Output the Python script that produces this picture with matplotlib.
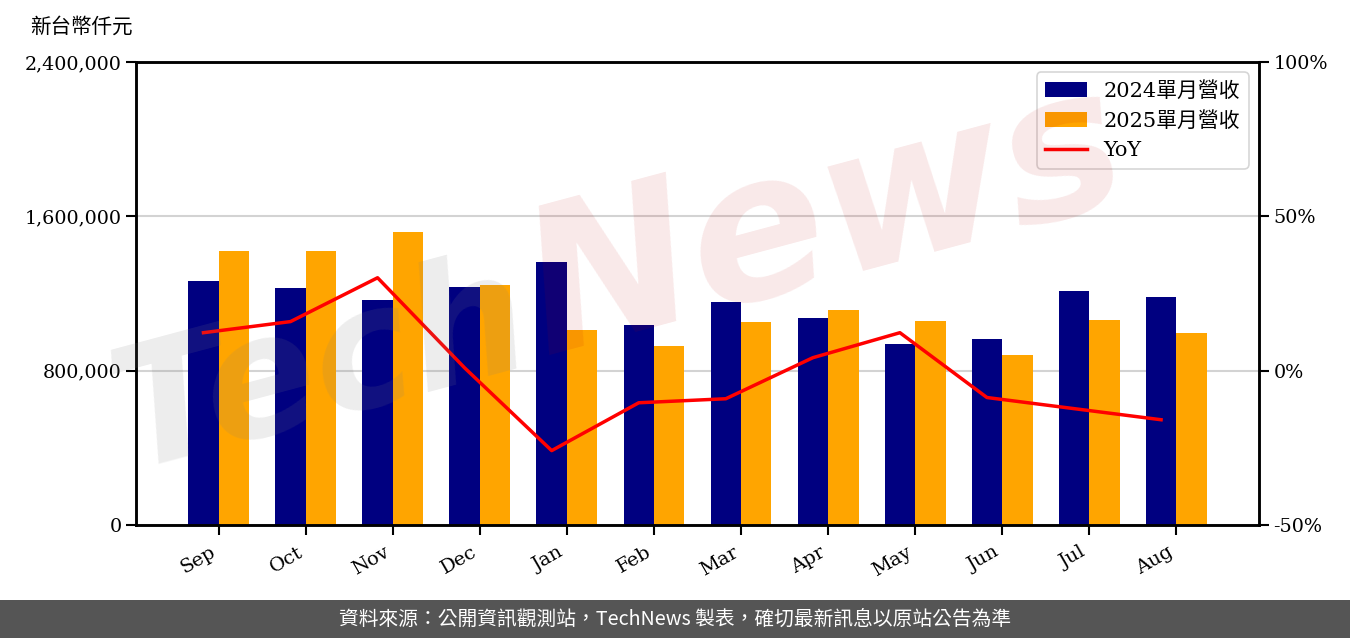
import matplotlib
matplotlib.use("Agg")
import matplotlib.pyplot as plt
import numpy as np
from matplotlib.ticker import FuncFormatter

months = ["Sep", "Oct", "Nov", "Dec", "Jan", "Feb", "Mar", "Apr", "May", "Jun", "Jul", "Aug"]
rev_2024 = [1265000, 1228000, 1166000, 1234000, 1363000, 1037000, 1156000, 1073000, 938000, 964000, 1213000, 1182000]
rev_2025 = [1420000, 1420000, 1519000, 1244000, 1011000, 928000, 1052000, 1114000, 1057000, 881000, 1063000, 995000]
yoy_pct = [12.3, 15.9, 30.1, 0.9, -25.9, -10.4, -9.1, 4.2, 12.3, -8.7, -12.3, -15.9]
label_2024 = "2024單月營收"
label_2025 = "2025單月營收"
label_yoy = "YoY"
unit_label = "新台幣仟元"
footer = "資料來源：公開資訊觀測站，TechNews 製表，確切最新訊息以原站公告為準"

SERIF = ["DejaVu Serif", "Noto Sans CJK TC"]
SANS = ["Noto Sans CJK TC", "DejaVu Sans"]

fig = plt.figure(figsize=(13.5, 6.38), dpi=100)
ax = fig.add_axes([136/1350, 113/638, 1123/1350, 463/638])
x = np.arange(len(months))
w = 0.35
b1 = ax.bar(x - w/2, rev_2024, w, color="#000080", label=label_2024, zorder=2)
b2 = ax.bar(x + w/2, rev_2025, w, color="#FFA500", label=label_2025, zorder=2)
ax.set_xlim(-0.95, 11.95)
ax.set_ylim(0, 2400000)
ax.set_yticks([0, 800000, 1600000, 2400000])
ax.yaxis.set_major_formatter(FuncFormatter(lambda v, p: f"{int(v):,}"))
ax.grid(axis="y", color="#d3d3d3", linewidth=1.5, zorder=0)
ax.set_axisbelow(True)
ax.set_xticks(x)
ax.set_xticklabels(months, rotation=30, ha="right", family=SERIF, fontsize=14)
for lab in ax.get_yticklabels():
    lab.set_family(SERIF); lab.set_fontsize(13.8)
ax.tick_params(axis="both", length=7, width=1.5, direction="out")
ax.tick_params(axis="x", pad=6)
for s in ax.spines.values():
    s.set_linewidth(1.8)

ax2 = ax.twinx()
ln, = ax2.plot(x - w/2, yoy_pct, color="red", linewidth=2.5, label=label_yoy, zorder=3)
ax2.set_ylim(-50, 100)
ax2.set_yticks([-50, 0, 50, 100])
ax2.yaxis.set_major_formatter(FuncFormatter(lambda v, p: f"{int(v)}%"))
for lab in ax2.get_yticklabels():
    lab.set_family(SERIF); lab.set_fontsize(13.8)
ax2.tick_params(axis="y", length=7, width=1.5)
for s in ax2.spines.values():
    s.set_linewidth(1.8)

leg = ax2.legend([b1, b2, ln], [label_2024, label_2025, label_yoy], loc="upper right",
                 prop={"family": SERIF, "size": 15}, frameon=True, fancybox=True,
                 borderpad=0.4, handlelength=2.0, handletextpad=0.8,
                 bbox_to_anchor=(1.0, 1.0), borderaxespad=0.5, labelspacing=0.5)
leg.get_frame().set_edgecolor("#cccccc")
leg.get_frame().set_linewidth(1.2)

fig.text(30/1350, 1 - 27/638, unit_label, family=SANS, fontsize=14.8, va="center", ha="left")

# watermark
fig.text(130/1350, 1 - 470/638, "Tech", fontsize=120, fontstyle="italic", fontweight="bold",
         color="#808080", alpha=0.14, rotation=15, rotation_mode="anchor",
         family="DejaVu Sans", ha="left", va="baseline", zorder=10)
fig.text(545/1350, 1 - 355/638, "News", fontsize=145, fontstyle="italic", fontweight="bold",
         color="#c00000", alpha=0.09, rotation=15, rotation_mode="anchor",
         family="DejaVu Sans", ha="left", va="baseline", zorder=10)

# footer
fig.patches.append(plt.Rectangle((0, 0), 1, 38/638, transform=fig.transFigure,
                                 facecolor="#555555", edgecolor="none", zorder=0))
fig.text(0.5, 19/638, footer, family=SANS, fontsize=14.2, color="white", ha="center", va="center")

fig.savefig("out.png", dpi=100)
